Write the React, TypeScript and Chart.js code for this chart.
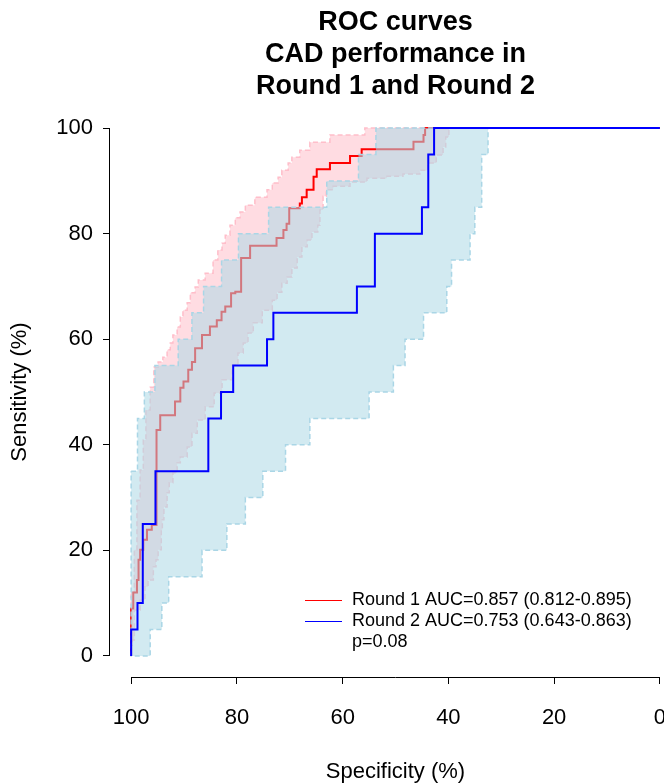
import React, { useEffect, useRef } from 'react';
import { Chart, registerables } from 'chart.js';

Chart.register(...registerables);

const FONT = "'Liberation Sans', Arial, Helvetica, sans-serif";

const titleLines = ['ROC curves', 'CAD performance in', 'Round 1 and Round 2'];
const xTitle = 'Specificity (%)';
const yTitle = 'Sensitivity (%)';
const xTicks = [100, 80, 60, 40, 20, 0];
const yTicks = [0, 20, 40, 60, 80, 100];

const legendLabels = [
  'Round 1 AUC=0.857 (0.812-0.895)',
  'Round 2 AUC=0.753 (0.643-0.863)',
  'p=0.08',
];
const legendColors = ['#ff0000', '#0000ff', ''];

// Round 1 ROC (specificity %, sensitivity %)
const r1Spec = [100, 100, 99.6, 98.9, 98.6, 98.3, 97.7, 97.0, 96.1, 95.2, 94.5, 91.7, 90.7, 90.1, 89.2, 88.5, 87.9, 86.6, 85.1, 83.8, 82.9, 82.2, 81.1, 80.3, 79.2, 77.5, 72.5, 71.2, 70.6, 70.1, 68.1, 67.7, 66.8, 65.5, 64.9, 62.4, 58.6, 56.4, 46.6, 44.7, 44.4, 0];
const r1Sens = [0, 9, 12, 14.4, 18.2, 20.1, 22.0, 23.9, 24.8, 42.8, 45.6, 48.2, 50.8, 52.0, 54.2, 55.7, 58.3, 60.8, 62.4, 63.6, 65.2, 66.2, 68.7, 69.0, 75.4, 77.7, 79.2, 80.7, 81.9, 84.8, 85.7, 86.9, 88.3, 90.8, 92.2, 93.4, 94.7, 96.0, 97.4, 98.7, 100, 100];

// Round 2 ROC
const r2Spec = [100, 100, 98.8, 97.8, 95.4, 85.4, 83.0, 80.7, 74.3, 73.1, 57.3, 53.9, 45.0, 43.8, 42.7, 0];
const r2Sens = [0, 5, 10, 25, 35, 45, 50, 55, 60, 65, 70, 80, 85, 95, 100, 100];

// Round 1 sensitivity CI band
const r1CiUpSpec = [100, 99.4, 98.9, 98.3, 97.7, 97.2, 96.4, 95.7, 94.9, 94.0, 93.2, 92.6, 92.1, 91.3, 90.7, 90.2, 89.4, 88.8, 87.9, 87.3, 86.0, 84.5, 83.6, 82.8, 82.2, 81.3, 80.3, 79.4, 78.4, 76.6, 74.3, 73.3, 72.2, 71.5, 70.3, 69.6, 68.1, 66.2, 62.4, 55.8];
const r1CiUpSens = [12, 20.1, 29.5, 35.2, 40.9, 46.6, 50.9, 54.7, 55.7, 56.6, 58.0, 59.3, 60.8, 62.3, 64.2, 65.5, 66.9, 68.8, 69.9, 71.2, 72.5, 75.0, 76.9, 78.2, 79.7, 81.6, 83.0, 84.1, 85.4, 86.9, 88.3, 89.6, 90.7, 92.0, 93.4, 94.5, 95.8, 97.3, 98.7, 100];
const r1CiLoSpec = [100, 99.8, 99.4, 98.3, 97.4, 96.8, 95.8, 95.3, 94.9, 94.3, 94.1, 93.8, 93.2, 92.8, 92.1, 91.3, 90.7, 89.4, 88.5, 87.5, 86.0, 84.3, 82.8, 80.9, 79.8, 78.8, 77.9, 76.9, 75.2, 73.3, 72.4, 71.5, 70.5, 69.6, 68.6, 67.7, 66.7, 65.8, 64.7, 64.3, 63.7, 63.1, 61.8, 58.6, 55.4, 51.6, 48.6, 45.4, 43.9, 42.3, 41.0, 40.5, 39.9];
const r1CiLoSens = [2, 3.0, 8.7, 10.6, 13.1, 14.4, 16.9, 18.2, 20.1, 23.9, 25.8, 28.2, 30.9, 32.8, 34.7, 36.6, 37.7, 39.6, 42.2, 44.7, 47.2, 49.8, 52.3, 55.1, 57.4, 59.3, 61.2, 63.1, 65.5, 67.4, 68.9, 70.6, 71.8, 73.5, 75.6, 77.5, 78.8, 80.3, 81.6, 84.5, 87.1, 88.3, 89.0, 89.8, 90.5, 90.9, 91.3, 92.0, 93.4, 94.9, 96.4, 98.3, 100];

// Round 2 sensitivity CI band
const r2CiUpSpec = [100, 98.8, 97.5, 95.5, 91.1, 88.5, 86.3, 82.9, 79.7, 74.0, 63.0, 57.0, 53.7];
const r2CiUpSens = [35, 45, 50, 55, 60, 65, 70, 75, 80, 85, 90, 95, 100];
const r2CiLoSpec = [100, 96.4, 94.2, 92.9, 86.6, 81.9, 78.4, 75.1, 70.8, 66.2, 55.0, 50.4, 48.2, 44.7, 40.3, 39.4, 35.9, 35.0, 33.7, 32.5];
const r2CiLoSens = [0, 5, 10, 15, 20, 25, 30, 35, 40, 45, 50, 55, 60, 65, 70, 75, 80, 85, 95, 100];

type P = { x: number; y: number };

function stairs(spec: number[], sens: number[]): P[] {
  const pts: P[] = [{ x: spec[0], y: sens[0] }];
  for (let i = 1; i < spec.length; i++) {
    pts.push({ x: spec[i], y: sens[i - 1] });
    pts.push({ x: spec[i], y: sens[i] });
  }
  return pts;
}

function band(upSpec: number[], upSens: number[], loSpec: number[], loSens: number[]): P[] {
  const up = stairs(upSpec, upSens);
  const lo = stairs(loSpec, loSens).reverse();
  return [...up, ...lo, up[0]];
}

const axisLinesPlugin = {
  id: 'rAxisLines',
  afterDraw(chart: any) {
    const { ctx, chartArea, scales } = chart;
    const xs = scales.x;
    const ys = scales.y;
    ctx.save();
    ctx.strokeStyle = '#000';
    ctx.lineWidth = 1;
    ctx.beginPath();
    const yb = Math.round(chartArea.bottom) + 0.5;
    ctx.moveTo(xs.getPixelForValue(xTicks[0]), yb);
    ctx.lineTo(xs.getPixelForValue(xTicks[xTicks.length - 1]), yb);
    const xl = Math.round(chartArea.left) - 0.5;
    ctx.moveTo(xl, ys.getPixelForValue(yTicks[0]));
    ctx.lineTo(xl, ys.getPixelForValue(yTicks[yTicks.length - 1]));
    ctx.stroke();
    ctx.restore();
  },
};

const insideLegendPlugin = {
  id: 'insideLegend',
  afterDatasetsDraw(chart: any) {
    const { ctx, chartArea } = chart;
    const x0 = chartArea.left + 195;
    const y0 = chartArea.bottom - 77;
    ctx.save();
    ctx.font = `18px ${FONT}`;
    ctx.textBaseline = 'middle';
    ctx.textAlign = 'left';
    legendLabels.forEach((label, i) => {
      const y = y0 + i * 21;
      if (legendColors[i]) {
        ctx.strokeStyle = legendColors[i];
        ctx.lineWidth = 1.2;
        ctx.beginPath();
        ctx.moveTo(x0, Math.round(y) + 0.5);
        ctx.lineTo(x0 + 37, Math.round(y) + 0.5);
        ctx.stroke();
      }
      ctx.fillStyle = '#000';
      ctx.fillText(label, x0 + 47, y);
    });
    ctx.restore();
  },
};

export default function App() {
  const ref = useRef<HTMLCanvasElement | null>(null);

  useEffect(() => {
    if (!ref.current) return;
    const chart = new Chart(ref.current, {
      type: 'line',
      data: {
        datasets: [
          {
            label: 'Round 2',
            data: stairs(r2Spec, r2Sens),
            borderColor: '#0000ff',
            borderWidth: 2,
            pointRadius: 0,
            fill: false,
            order: 0,
          },
          {
            label: 'Round 2 CI',
            data: band(r2CiUpSpec, r2CiUpSens, r2CiLoSpec, r2CiLoSens),
            borderColor: 'rgb(170,214,230)',
            borderWidth: 1.5,
            borderDash: [5, 3],
            backgroundColor: 'rgba(173,216,230,0.55)',
            fill: 'shape',
            pointRadius: 0,
            order: 1,
          },
          {
            label: 'Round 1',
            data: stairs(r1Spec, r1Sens),
            borderColor: '#ff0000',
            borderWidth: 2,
            pointRadius: 0,
            fill: false,
            order: 2,
          },
          {
            label: 'Round 1 CI',
            data: band(r1CiUpSpec, r1CiUpSens, r1CiLoSpec, r1CiLoSens),
            borderColor: 'rgb(255,190,202)',
            borderWidth: 1.5,
            borderDash: [5, 3],
            backgroundColor: 'rgba(255,192,203,0.55)',
            fill: 'shape',
            pointRadius: 0,
            order: 3,
          },
        ],
      },
      options: {
        animation: false,
        responsive: false,
        events: [],
        layout: { padding: { left: 0, right: 19, top: 0, bottom: 0 } },
        plugins: {
          legend: { display: false },
          tooltip: { enabled: false },
          title: {
            display: true,
            text: titleLines,
            color: '#000',
            fullSize: false,
            font: { family: FONT, size: 27, weight: 'bold', lineHeight: 1.2 },
            padding: { top: 6, bottom: 3.8 },
          },
        },
        scales: {
          x: {
            type: 'linear',
            reverse: true,
            min: -4,
            max: 104,
            afterBuildTicks: (s: any) => {
              s.ticks = xTicks.map((v) => ({ value: v }));
            },
            afterFit: (s: any) => {
              s.height = 106;
            },
            ticks: {
              color: '#000',
              font: { family: FONT, size: 22 },
              padding: 21,
              maxRotation: 0,
              autoSkip: false,
              callback: (v: any) => String(v),
            },
            grid: { drawOnChartArea: false, drawTicks: true, tickLength: 7, color: '#000', lineWidth: 1 },
            border: { display: false },
            title: {
              display: true,
              text: xTitle,
              color: '#000',
              font: { family: FONT, size: 22, lineHeight: 1 },
              padding: { top: 0, bottom: 0 },
            },
          },
          y: {
            type: 'linear',
            min: -4,
            max: 104,
            afterBuildTicks: (s: any) => {
              s.ticks = yTicks.map((v) => ({ value: v }));
            },
            afterFit: (s: any) => {
              s.width = 110;
            },
            ticks: {
              color: '#000',
              font: { family: FONT, size: 22 },
              padding: 10,
              autoSkip: false,
              callback: (v: any) => String(v),
            },
            grid: { drawOnChartArea: false, drawTicks: true, tickLength: 7, color: '#000', lineWidth: 1 },
            border: { display: false },
            title: {
              display: true,
              text: yTitle,
              color: '#000',
              font: { family: FONT, size: 22, lineHeight: 1 },
              padding: { top: 9, bottom: 0 },
            },
          },
        },
      } as any,
      plugins: [axisLinesPlugin, insideLegendPlugin],
    });
    return () => chart.destroy();
  }, []);

  return (
    <div
      style={{
        position: 'fixed',
        left: 0,
        top: 0,
        width: 664,
        height: 783,
        overflow: 'hidden',
        background: '#fff',
      }}
    >
      <canvas ref={ref} width={700} height={783} style={{ display: 'block', width: 700, height: 783 }} />
    </div>
  );
}
